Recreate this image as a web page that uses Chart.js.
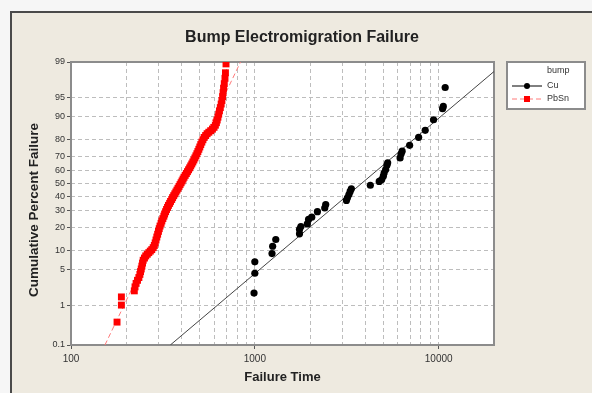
<!DOCTYPE html>
<html>
<head>
<meta charset="utf-8">
<script src="https://cdn.jsdelivr.net/npm/chart.js@4/dist/chart.umd.min.js"></script>
<style>
  html, body { margin: 0; padding: 0; background: #F6F6F6; }
  #wrap { position: relative; width: 592px; height: 393px; overflow: hidden; }
  #frame { position: absolute; left: 10px; top: 11px; width: 592px; height: 393px;
           border-top: 2px solid #4a4a4a; border-left: 2px solid #4a4a4a; background: #EEEAE0; }
  canvas { position: absolute; left: 0; top: 0; }
</style>
</head>
<body>
<div id="wrap">
  <div id="frame"></div>
  <canvas id="c" width="592" height="393"></canvas>
</div>
<script>
// ---------------- data ----------------
const cuTime = [990, 1000, 1000, 1240, 1250, 1300, 1750, 1750, 1780, 1930, 1960, 2040, 2190, 2400, 2430,
  3150, 3190, 3250, 3300, 3350, 4250, 4750, 4900, 5000, 5050, 5150, 5230, 5280, 6170, 6250, 6330,
  6950, 7780, 8450, 9380, 10500, 10600, 10850];
const cuPct = [1.8, 4.3, 6.7, 9.0, 11.5, 14.2, 16.8, 19.0, 20.5, 22.0, 24.6, 26.0, 29.5, 32.0, 34.4,
  37.3, 39.2, 41.7, 44.0, 46.0, 48.7, 51.6, 53.0, 55.6, 58.0, 60.6, 63.7, 65.4, 68.8, 71.5, 73.2,
  76.8, 81.2, 84.6, 88.9, 92.4, 93.0, 96.7];

const pbsnTime = [178, 188, 188, 221, 223, 226, 230, 234, 237, 239, 241, 243, 245, 247, 251, 255, 260, 265,
  270, 275, 280, 284, 287, 290, 293, 296, 299, 302, 305, 309, 312, 316, 320, 323, 327, 331, 335, 339,
  344, 348, 353, 357, 362, 367, 372, 377, 382, 387, 392, 397, 402, 407, 412, 418, 424, 430, 436, 442,
  448, 454, 460, 466, 472, 478, 484, 490, 496, 502, 508, 515, 522, 530, 540, 550, 562, 575, 588, 600,
  610, 618, 624, 630, 636, 642, 649, 656, 662, 668, 672, 676, 682, 688, 692, 697, 722];
const pbsnPct = [0.4, 1.0, 1.5, 2.0, 2.4, 2.8, 3.2, 3.6, 4.1, 4.6, 5.1, 5.7, 6.4, 7.1, 7.7, 8.3, 8.8, 9.3,
  9.8, 10.3, 11.0, 11.8, 12.8, 14.0, 15.3, 16.6, 18.0, 19.4, 20.8, 22.3, 23.7, 25.1, 26.6, 28.0, 29.5,
  31.0, 32.4, 33.8, 35.2, 36.6, 38.0, 39.4, 40.8, 42.2, 43.6, 45.0, 46.4, 47.8, 49.2, 50.6, 52.0, 53.4,
  54.8, 56.2, 57.6, 59.0, 60.4, 61.8, 63.2, 64.6, 66.0, 67.4, 68.8, 70.2, 71.6, 73.0, 74.4, 75.8, 77.2,
  78.6, 79.9, 81.1, 82.1, 83.0, 83.7, 84.4, 85.1, 85.9, 86.8, 87.8, 88.8, 89.8, 90.8, 91.8, 92.7, 93.6,
  94.4, 95.2, 95.9, 96.6, 97.2, 97.8, 98.3, 98.9];

// fitted lognormal lines (end points)
const cuFitTime = [347, 20000];
const cuFitPct = [0.1, 98.4];
const pbsnFitTime = [153, 836];
const pbsnFitPct = [0.1, 99];

// axes and texts
const xGridValues = [100, 200, 300, 400, 500, 600, 700, 800, 900, 1000, 2000, 3000, 4000, 5000, 6000, 7000, 8000, 9000, 10000, 20000];
const xTickLabels = ['100', '1000', '10000'];
const yTickPct = [0.1, 1, 5, 10, 20, 30, 40, 50, 60, 70, 80, 90, 95, 99];
const yTickLabels = ['0.1', '1', '5', '10', '20', '30', '40', '50', '60', '70', '80', '90', '95', '99'];
const chartTitle = 'Bump Electromigration Failure';
const xTitle = 'Failure Time';
const yTitle = 'Cumulative Percent Failure';
const legendTitle = 'bump';
const seriesNames = ['Cu', 'PbSn'];

// ---------------- probability (normal) scale transform ----------------
function probit(p) {
  const a = [-3.969683028665376e+01, 2.209460984245205e+02, -2.759285104469687e+02, 1.383577518672690e+02, -3.066479806614716e+01, 2.506628277459239e+00];
  const b = [-5.447609879822406e+01, 1.615858368580409e+02, -1.556989798598866e+02, 6.680131188771972e+01, -1.328068155288572e+01];
  const c = [-7.784894002430293e-03, -3.223964580411365e-01, -2.400758277161838e+00, -2.549732539343734e+00, 4.374664141464968e+00, 2.938163982698783e+00];
  const d = [7.784695709041462e-03, 3.224671290700398e-01, 2.445134137142996e+00, 3.754408661907416e+00];
  const pl = 0.02425, ph = 1 - pl;
  let q, r;
  if (p < pl) {
    q = Math.sqrt(-2 * Math.log(p));
    return (((((c[0]*q+c[1])*q+c[2])*q+c[3])*q+c[4])*q+c[5]) / ((((d[0]*q+d[1])*q+d[2])*q+d[3])*q+1);
  }
  if (p <= ph) {
    q = p - 0.5; r = q*q;
    return (((((a[0]*r+a[1])*r+a[2])*r+a[3])*r+a[4])*r+a[5])*q / (((((b[0]*r+b[1])*r+b[2])*r+b[3])*r+b[4])*r+1);
  }
  q = Math.sqrt(-2 * Math.log(1 - p));
  return -(((((c[0]*q+c[1])*q+c[2])*q+c[3])*q+c[4])*q+c[5]) / ((((d[0]*q+d[1])*q+d[2])*q+d[3])*q+1);
}
const z = pct => probit(pct / 100);
const toPts = (xs, ps) => xs.map((x, i) => ({ x: x, y: z(ps[i]) }));

const FONT = '"Liberation Sans", Arial, sans-serif';
const RED = '#FF0000';
const RED_LINE = '#FF7A7A';
const TXT = '#222222';

// ---------------- plugins ----------------
const plotFrame = {
  id: 'plotFrame',
  beforeDraw(chart) {
    const a = chart.chartArea, ctx = chart.ctx;
    ctx.save();
    ctx.fillStyle = '#FFFFFF';
    ctx.fillRect(a.left, a.top, a.right - a.left, a.bottom - a.top);
    ctx.restore();
  },
  beforeDatasetsDraw(chart) {
    const a = chart.chartArea, ctx = chart.ctx;
    ctx.save();
    ctx.strokeStyle = '#8C8C8C';
    ctx.lineWidth = 2;
    ctx.strokeRect(a.left, a.top, a.right - a.left, a.bottom - a.top);
    ctx.restore();
  }
};

const texts = {
  id: 'texts',
  afterDraw(chart) {
    const a = chart.chartArea, ctx = chart.ctx;
    ctx.save();
    ctx.fillStyle = TXT;
    ctx.textAlign = 'center';
    ctx.textBaseline = 'middle';
    ctx.font = 'bold 16px ' + FONT;
    ctx.fillText(chartTitle, 302, 38);
    ctx.translate(34, 210);
    ctx.rotate(-Math.PI / 2);
    ctx.font = 'bold 13.5px ' + FONT;
    ctx.fillText(yTitle, 0, 0);
    ctx.restore();
  }
};

const boxLegend = {
  id: 'boxLegend',
  afterDraw(chart) {
    const a = chart.chartArea, ctx = chart.ctx;
    const L = a.right + 13, T = a.top, W = 78, H = 47;
    ctx.save();
    ctx.fillStyle = '#FFFFFF';
    ctx.fillRect(L, T, W, H);
    ctx.strokeStyle = '#8C8C8C';
    ctx.lineWidth = 2;
    ctx.strokeRect(L, T, W, H);
    ctx.fillStyle = '#333333';
    ctx.font = '9px ' + FONT;
    ctx.textBaseline = 'middle';
    ctx.textAlign = 'left';
    ctx.fillText(legendTitle, L + 40, T + 9);
    // Cu
    let y = T + 24;
    ctx.strokeStyle = '#000000'; ctx.lineWidth = 1;
    ctx.beginPath(); ctx.moveTo(L + 5, y); ctx.lineTo(L + 35, y); ctx.stroke();
    ctx.fillStyle = '#000000';
    ctx.beginPath(); ctx.arc(L + 20, y, 3, 0, Math.PI * 2); ctx.fill();
    ctx.fillStyle = '#333333';
    ctx.fillText(seriesNames[0], L + 40, y);
    // PbSn
    y = T + 37;
    ctx.strokeStyle = RED_LINE; ctx.lineWidth = 1;
    ctx.setLineDash([5, 3]);
    ctx.beginPath(); ctx.moveTo(L + 5, y); ctx.lineTo(L + 35, y); ctx.stroke();
    ctx.setLineDash([]);
    ctx.fillStyle = RED;
    ctx.fillRect(L + 17, y - 3, 6, 6);
    ctx.fillStyle = '#333333';
    ctx.fillText(seriesNames[1], L + 40, y);
    ctx.restore();
  }
};

// ---------------- chart ----------------
new Chart(document.getElementById('c'), {
  type: 'scatter',
  data: {
    datasets: [
      { label: 'PbSn fit', data: toPts(pbsnFitTime, pbsnFitPct), showLine: true, borderColor: RED_LINE,
        borderWidth: 1, borderDash: [5, 3], pointRadius: 0, fill: false, order: 4 },
      { label: 'Cu fit', data: toPts(cuFitTime, cuFitPct), showLine: true, borderColor: '#444444',
        borderWidth: 1, pointRadius: 0, fill: false, order: 3 },
      { label: seriesNames[1], data: toPts(pbsnTime, pbsnPct), pointStyle: 'rect', pointRadius: 4.9,
        backgroundColor: RED, borderColor: RED, borderWidth: 0, order: 2 },
      { label: seriesNames[0], data: toPts(cuTime, cuPct), pointStyle: 'circle', pointRadius: 3.6,
        backgroundColor: '#000000', borderColor: '#000000', borderWidth: 0, order: 1 }
    ]
  },
  plugins: [plotFrame, texts, boxLegend],
  options: {
    responsive: false,
    animation: false,
    devicePixelRatio: 1,
    layout: { padding: { left: 0, right: 98, top: 62, bottom: 0 } },
    plugins: {
      legend: { display: false },
      tooltip: { enabled: false },
      title: { display: false }
    },
    scales: {
      x: {
        type: 'logarithmic',
        min: 100, max: 20000,
        afterBuildTicks(scale) { scale.ticks = xGridValues.map(v => ({ value: v })); },
        afterFit(scale) { scale.height = 48; },
        ticks: {
          autoSkip: false, maxRotation: 0, minRotation: 0, padding: 4,
          color: '#333333', font: { family: FONT, size: 10 },
          callback(v) { const s = String(v); return xTickLabels.includes(s) ? s : ''; }
        },
        grid: {
          color(ctx) {
            const v = ctx.tick && ctx.tick.value;
            return (v === 100 || v === 20000) ? 'rgba(0,0,0,0)' : '#BDBDBD';
          },
          lineWidth: 1,
          tickLength: 4,
          tickColor(ctx) {
            const v = ctx.tick && ctx.tick.value;
            return xTickLabels.includes(String(v)) ? '#555555' : 'rgba(0,0,0,0)';
          }
        },
        border: { display: false, dash: [4, 3] },
        title: {
          display: true, text: xTitle, color: TXT,
          font: { family: FONT, size: 13, weight: 'bold' },
          padding: { top: 0, bottom: 8 }
        }
      },
      y: {
        type: 'linear',
        min: z(0.1), max: z(99),
        afterBuildTicks(scale) { scale.ticks = yTickPct.map(p => ({ value: z(p) })); },
        afterFit(scale) { scale.width = 71; },
        ticks: {
          autoSkip: false, padding: 2,
          color: '#333333', font: { family: FONT, size: 9 },
          callback(v, i) { return yTickLabels[i]; }
        },
        grid: {
          color(ctx) {
            const i = ctx.index;
            return (i === 0 || i === yTickPct.length - 1) ? 'rgba(0,0,0,0)' : '#BDBDBD';
          },
          lineWidth: 1,
          tickLength: 4,
          tickColor: '#555555'
        },
        border: { display: false, dash: [4, 3] }
      }
    }
  }
});
</script>
</body>
</html>
